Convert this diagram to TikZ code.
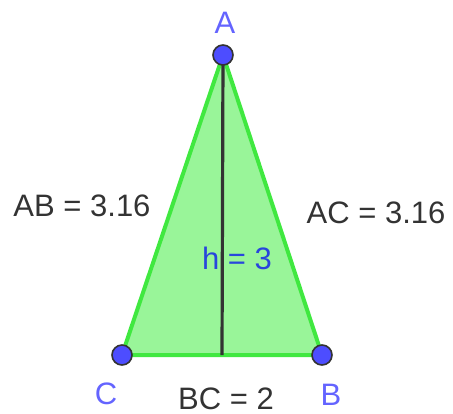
\documentclass[tikz,border=0pt]{standalone}
\usepackage{fontspec}
\setmainfont{Liberation Sans}
\usepackage{xcolor}
\usetikzlibrary{positioning}

\definecolor{ggfill}{RGB}{153,245,153}
\definecolor{ggedge}{RGB}{64,232,64}
\definecolor{ggpoint}{RGB}{77,77,255}
\definecolor{gglabel}{RGB}{100,100,255}
\definecolor{ggh}{RGB}{40,70,220}
\definecolor{ggtext}{RGB}{51,51,51}

\begin{document}
\begin{tikzpicture}[x=0.5pt, y=-0.5pt,
    every node/.style={font=\fontsize{15.5}{18}\selectfont, inner sep=0pt},
    vertex/.style={circle, draw=black!80, line width=0.8pt, fill=ggpoint, minimum size=10pt},
    ptlabel/.style={text=gglabel},
    lenlabel/.style={text=ggtext}]
    \useasboundingbox (0, 0) rectangle (453, 413);

    % 顶点
    \coordinate (A) at (223, 55);
    \coordinate (C) at (122, 355);
    \coordinate (B) at (322, 355);
    \coordinate (H) at (222, 355);

    % 三角形
    \filldraw[fill=ggfill, draw=ggedge, line width=2pt, line join=round] (A) -- (B) -- (C) -- cycle;

    % 高
    \draw[line width=1.6pt, draw=black!80] (A) -- (H);

    % 点
    \node[vertex] (pA) at (A) {};
    \node[vertex] (pB) at (B) {};
    \node[vertex] (pC) at (C) {};

    % 标签
    \node[ptlabel] (lA) at (225, 23) {A};
    \node[ptlabel] (lC) at (106, 394) {C};
    \node[ptlabel] (lB) at (331, 395) {B};

    \node[lenlabel] (lAB) at (82, 206) {AB = 3.16};
    \node[lenlabel] (lAC) at (376, 213) {AC = 3.16};
    \node[lenlabel] (lBC) at (226, 399) {BC = 2};
    \node[text=ggh] (lh) at (237, 258) {h = 3};
\end{tikzpicture}
\end{document}
